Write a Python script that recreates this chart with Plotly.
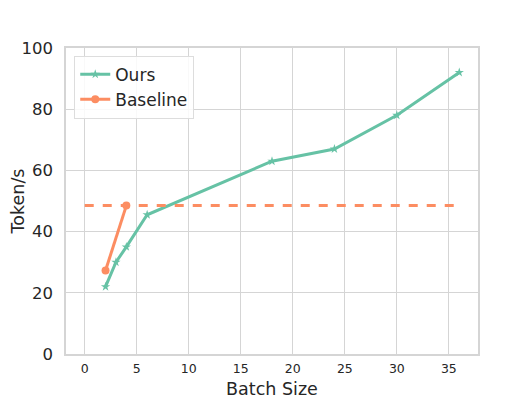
import plotly.graph_objects as go

# datos
batch_ours = [2, 3, 4, 6, 18, 24, 30, 36]
tok_ours = [22, 30, 35, 45.5, 63, 67, 78, 92]

batch_base = [2, 4]
tok_base = [27.3, 48.5]

# línea de referencia (baseline máximo)
ref_x = [0, 36]
ref_y = [48.5, 48.5]

x_ticks = [0, 5, 10, 15, 20, 25, 30, 35]
y_ticks = [0, 20, 40, 60, 80, 100]

verde = "#66c2a5"
naranja = "#fc8d62"
gris = "#d5d5d5"

fig = go.Figure()

fig.add_trace(go.Scatter(
    x=batch_ours, y=tok_ours, mode="lines+markers", name="Ours",
    line=dict(color=verde, width=3),
    marker=dict(symbol="star", size=7, color=verde),
))

fig.add_trace(go.Scatter(
    x=batch_base, y=tok_base, mode="lines+markers", name="Baseline",
    line=dict(color=naranja, width=3),
    marker=dict(symbol="circle", size=8, color=naranja),
))

fig.add_trace(go.Scatter(
    x=ref_x, y=ref_y, mode="lines", showlegend=False,
    line=dict(color=naranja, width=3, dash="dash"),
))

# el body de la página tiene 8px de margen: se compensa aquí
fig.update_layout(
    width=523, height=391,
    margin=dict(l=58, r=53, t=40, b=45),
    plot_bgcolor="white", paper_bgcolor="white",
    font=dict(family="DejaVu Sans", color="#262626"),
    legend=dict(
        x=0.02, y=0.975, xanchor="left", yanchor="top",
        bgcolor="rgba(255,255,255,0.85)", bordercolor="#dddddd", borderwidth=1,
        font=dict(size=17), tracegroupgap=0,
    ),
)

fig.update_xaxes(
    range=[-1.8, 37.8], tickvals=x_ticks, tickfont=dict(size=12.5),
    title=dict(text="Batch Size", font=dict(size=17.5), standoff=9),
    showgrid=True, gridcolor=gris, gridwidth=1.4,
    showline=True, linecolor=gris, linewidth=1.6, mirror=True,
    zeroline=False, ticks="outside", ticklen=2, tickcolor="white",
    automargin=False,
)
fig.update_yaxes(
    range=[0, 100], tickvals=y_ticks, tickfont=dict(size=16.5),
    title=dict(text="Token/s", font=dict(size=17.5), standoff=14),
    showgrid=True, gridcolor=gris, gridwidth=1.4,
    showline=True, linecolor=gris, linewidth=1.6, mirror=True,
    zeroline=False, ticks="outside", ticklen=8, tickcolor="white",
    automargin=False,
)

fig.write_html("out.html")
